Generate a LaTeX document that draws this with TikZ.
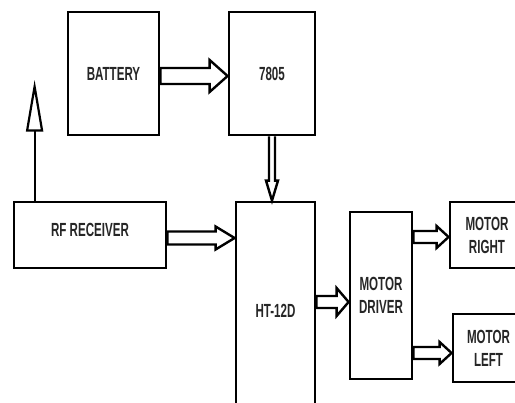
\documentclass[tikz,border=0pt]{standalone}
\usepackage{fontspec}
\setmainfont{Liberation Sans}[FakeStretch=0.61]
\usetikzlibrary{calc}
\tikzset{
  box/.style={draw=black, line width=2.8pt, rectangle, inner sep=0pt, align=center,
    font=\fontsize{19}{23}\selectfont\bfseries, text=black!85},
  fat/.style={draw=black, line width=2.4pt, fill=white, line join=miter},
  wire/.style={draw=black, line width=2.2pt}
}
\newcommand\harrow[5]{%
  \draw[fat] let \p1=#1, \p2=#2 in
    (\x1,\y1+#3) -- (\x2-#5,\y1+#3) -- (\x2-#5,\y1+#4) -- (\x2,\y1) --
    (\x2-#5,\y1-#4) -- (\x2-#5,\y1-#3) -- (\x1,\y1-#3) -- cycle;}
\newcommand\varrow[5]{%
  \draw[fat] let \p1=#1, \p2=#2 in
    (\x1-#3,\y1) -- (\x1-#3,\y2+#5) -- (\x1-#4,\y2+#5) -- (\x1,\y2) --
    (\x1+#4,\y2+#5) -- (\x1+#3,\y2+#5) -- (\x1+#3,\y1);}
\begin{document}
\begin{tikzpicture}[x=1pt,y=-1pt]
\useasboundingbox (0,0) rectangle (515,403);
\clip (0,0) rectangle (515,403);
\fill[white] (0,0) rectangle (515,403);

\node[box, minimum width=91pt, minimum height=123pt] (bat) at (113.5,73.5) {BATTERY};
\node[box, minimum width=86pt, minimum height=123pt] (reg) at (272,73.5) {7805};
\node[box, minimum width=152pt, minimum height=66pt] (rf) at (90,235) {\raisebox{11pt}{RF RECEIVER}};
\node[box, minimum width=79pt, minimum height=218pt] (ht) at (275.5,311) {HT-12D};
\node[box, minimum width=62pt, minimum height=167pt] (md) at (381,295.5) {MOTOR\\DRIVER};
\node[box, minimum width=74pt, minimum height=66pt] (mr) at (487,235) {MOTOR\\RIGHT};
\node[box, minimum width=71pt, minimum height=68pt] (ml) at (488.5,348) {MOTOR\\LEFT};

% antenna
\coordinate (antfoot) at ([xshift=22pt]rf.north west);
\coordinate (tribase) at ($(antfoot)+(0,-70)$);
\coordinate (anttip) at ($(antfoot)+(0,-114)$);
\draw[wire] (antfoot) -- (tribase);
\draw[wire, line join=miter] ([xshift=-7.5pt]tribase) -- (anttip) -- ([xshift=7.5pt]tribase) -- cycle;

% arrows
\harrow{([yshift=-2.5pt]bat.east)}{(reg.west)}{8pt}{16pt}{18pt}
\harrow{([yshift=-3pt]rf.east)}{(ht.west)}{6.5pt}{11.5pt}{19pt}
\coordinate (mdin) at ([yshift=-6.5pt]md.west);
\harrow{(ht.east |- mdin)}{(mdin)}{6pt}{14pt}{12pt}
\coordinate (mrin) at ([yshift=-2pt]mr.west);
\harrow{(md.east |- mrin)}{(mrin)}{6pt}{11pt}{12pt}
\coordinate (mlin) at ([yshift=-5pt]ml.west);
\harrow{(md.east |- mlin)}{(mlin)}{6pt}{11pt}{12pt}
\varrow{(reg.south)}{(reg.south |- ht.north)}{3pt}{6pt}{20pt}
\end{tikzpicture}
\end{document}
